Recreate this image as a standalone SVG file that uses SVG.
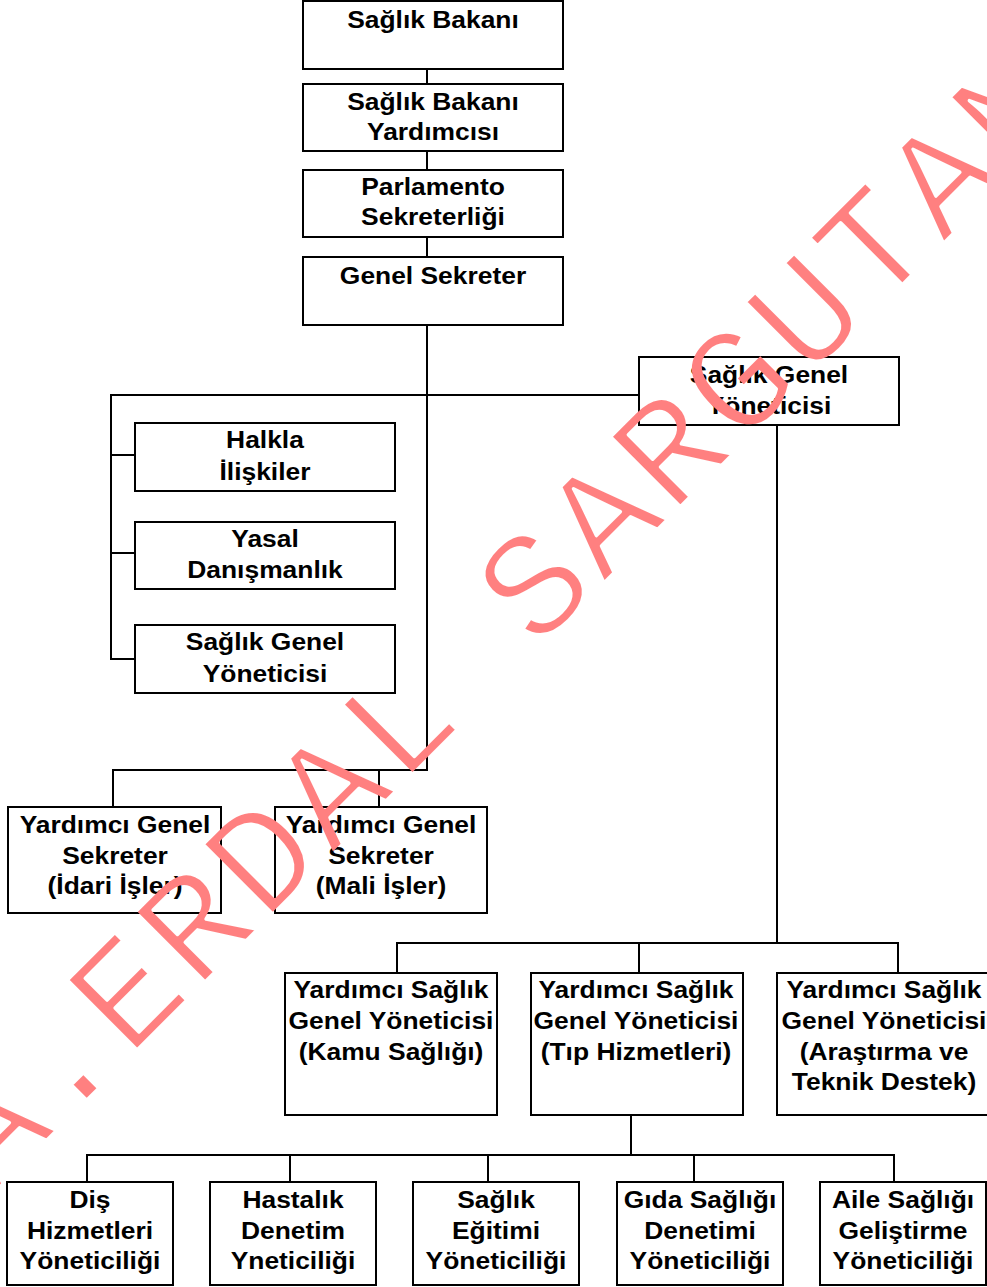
<svg xmlns="http://www.w3.org/2000/svg" width="987" height="1287" viewBox="0 0 987 1287">
<style>
.box{fill:#fff;stroke:#000;stroke-width:2}
.t{font-family:"Liberation Sans",Arial,sans-serif;font-weight:bold;font-size:24px;fill:#000;text-anchor:middle}
.c line{stroke:#000;stroke-width:2;fill:none}
.wm{font-family:"Liberation Mono","Courier New",monospace;font-size:150px;letter-spacing:6px}
</style>
<defs>
<mask id="wmthin" maskUnits="userSpaceOnUse" x="-500" y="-400" width="2600" height="800">
<text class="wm" x="0" y="0" fill="#fff" stroke="#000" stroke-width="3.5" stroke-linejoin="round">A.ERDAL SARGUTAN</text>
</mask>
</defs>
<rect width="987" height="1287" fill="#fff"/>
<g class="c" id="connectors">
<line x1="427" y1="69" x2="427" y2="84"/>
<line x1="427" y1="151" x2="427" y2="170"/>
<line x1="427" y1="237" x2="427" y2="257"/>
<line x1="427" y1="325" x2="427" y2="771"/>
<line x1="110" y1="395" x2="639" y2="395"/>
<line x1="111" y1="394" x2="111" y2="660"/>
<line x1="110" y1="455" x2="135" y2="455"/>
<line x1="110" y1="553" x2="135" y2="553"/>
<line x1="110" y1="659" x2="135" y2="659"/>
<line x1="112" y1="770" x2="428" y2="770"/>
<line x1="113" y1="770" x2="113" y2="807"/>
<line x1="379" y1="770" x2="379" y2="807"/>
<line x1="777" y1="425" x2="777" y2="943"/>
<line x1="396" y1="943" x2="899" y2="943"/>
<line x1="397" y1="943" x2="397" y2="973"/>
<line x1="639" y1="943" x2="639" y2="973"/>
<line x1="898" y1="943" x2="898" y2="973"/>
<line x1="631" y1="1115" x2="631" y2="1155"/>
<line x1="86" y1="1155" x2="895" y2="1155"/>
<line x1="87" y1="1155" x2="87" y2="1182"/>
<line x1="290" y1="1155" x2="290" y2="1182"/>
<line x1="488" y1="1155" x2="488" y2="1182"/>
<line x1="694" y1="1155" x2="694" y2="1182"/>
<line x1="894" y1="1155" x2="894" y2="1182"/>
</g>
<g id="n1"><rect class="box" x="303" y="1" width="260" height="68"/>
<text class="t" transform="translate(433 0) scale(1.1 1)"><tspan x="0" y="28">Sağlık Bakanı</tspan></text></g>
<g id="n2"><rect class="box" x="303" y="84" width="260" height="67"/>
<text class="t" transform="translate(433 0) scale(1.1 1)"><tspan x="0" y="110">Sağlık Bakanı</tspan><tspan x="0" y="140">Yardımcısı</tspan></text></g>
<g id="n3"><rect class="box" x="303" y="170" width="260" height="67"/>
<text class="t" transform="translate(433 0) scale(1.1 1)"><tspan x="0" y="195">Parlamento</tspan><tspan x="0" y="225">Sekreterliği</tspan></text></g>
<g id="n4"><rect class="box" x="303" y="257" width="260" height="68"/>
<text class="t" transform="translate(433 0) scale(1.1 1)"><tspan x="0" y="284">Genel Sekreter</tspan></text></g>
<g id="n5"><rect class="box" x="639" y="357" width="260" height="68"/>
<text class="t" transform="translate(769 0) scale(1.1 1)"><tspan x="0" y="383">Sağlık Genel</tspan><tspan x="0" y="414">Yöneticisi</tspan></text></g>
<g id="n6"><rect class="box" x="135" y="423" width="260" height="68"/>
<text class="t" transform="translate(265 0) scale(1.1 1)"><tspan x="0" y="448">Halkla</tspan><tspan x="0" y="480">İlişkiler</tspan></text></g>
<g id="n7"><rect class="box" x="135" y="522" width="260" height="67"/>
<text class="t" transform="translate(265 0) scale(1.1 1)"><tspan x="0" y="547">Yasal</tspan><tspan x="0" y="578">Danışmanlık</tspan></text></g>
<g id="n8"><rect class="box" x="135" y="625" width="260" height="68"/>
<text class="t" transform="translate(265 0) scale(1.1 1)"><tspan x="0" y="650">Sağlık Genel</tspan><tspan x="0" y="682">Yöneticisi</tspan></text></g>
<g id="n9"><rect class="box" x="8" y="807" width="213" height="106"/>
<text class="t" transform="translate(115 0) scale(1.1 1)"><tspan x="0" y="833">Yardımcı Genel</tspan><tspan x="0" y="864">Sekreter</tspan><tspan x="0" y="894">(İdari İşler)</tspan></text></g>
<g id="n10"><rect class="box" x="275" y="807" width="212" height="106"/>
<text class="t" transform="translate(381 0) scale(1.1 1)"><tspan x="0" y="833">Yardımcı Genel</tspan><tspan x="0" y="864">Sekreter</tspan><tspan x="0" y="894">(Mali İşler)</tspan></text></g>
<g id="n11"><rect class="box" x="285" y="973" width="212" height="142"/>
<text class="t" transform="translate(391 0) scale(1.1 1)"><tspan x="0" y="998">Yardımcı Sağlık</tspan><tspan x="0" y="1029">Genel Yöneticisi</tspan><tspan x="0" y="1060">(Kamu Sağlığı)</tspan></text></g>
<g id="n12"><rect class="box" x="531" y="973" width="212" height="142"/>
<text class="t" transform="translate(636 0) scale(1.1 1)"><tspan x="0" y="998">Yardımcı Sağlık</tspan><tspan x="0" y="1029">Genel Yöneticisi</tspan><tspan x="0" y="1060">(Tıp Hizmetleri)</tspan></text></g>
<g id="n13"><rect class="box" x="777" y="973" width="214" height="142"/>
<text class="t" transform="translate(884 0) scale(1.1 1)"><tspan x="0" y="998">Yardımcı Sağlık</tspan><tspan x="0" y="1029">Genel Yöneticisi</tspan><tspan x="0" y="1060">(Araştırma ve</tspan><tspan x="0" y="1090">Teknik Destek)</tspan></text></g>
<g id="n14"><rect class="box" x="7" y="1182" width="166" height="103"/>
<text class="t" transform="translate(90 0) scale(1.1 1)"><tspan x="0" y="1208">Diş</tspan><tspan x="0" y="1239">Hizmetleri</tspan><tspan x="0" y="1269">Yöneticiliği</tspan></text></g>
<g id="n15"><rect class="box" x="210" y="1182" width="166" height="103"/>
<text class="t" transform="translate(293 0) scale(1.1 1)"><tspan x="0" y="1208">Hastalık</tspan><tspan x="0" y="1239">Denetim</tspan><tspan x="0" y="1269">Yneticiliği</tspan></text></g>
<g id="n16"><rect class="box" x="413" y="1182" width="166" height="103"/>
<text class="t" transform="translate(496 0) scale(1.1 1)"><tspan x="0" y="1208">Sağlık</tspan><tspan x="0" y="1239">Eğitimi</tspan><tspan x="0" y="1269">Yöneticiliği</tspan></text></g>
<g id="n17"><rect class="box" x="617" y="1182" width="166" height="103"/>
<text class="t" transform="translate(700 0) scale(1.1 1)"><tspan x="0" y="1208">Gıda Sağlığı</tspan><tspan x="0" y="1239">Denetimi</tspan><tspan x="0" y="1269">Yöneticiliği</tspan></text></g>
<g id="n18"><rect class="box" x="820" y="1182" width="166" height="103"/>
<text class="t" transform="translate(903 0) scale(1.1 1)"><tspan x="0" y="1208">Aile Sağlığı</tspan><tspan x="0" y="1239">Geliştirme</tspan><tspan x="0" y="1269">Yöneticiliği</tspan></text></g>
<g id="watermark" transform="translate(-7 1194) rotate(-45)">
<text class="wm" x="0" y="0" fill="#FF8080" mask="url(#wmthin)">A.ERDAL SARGUTAN</text>
</g>
</svg>
